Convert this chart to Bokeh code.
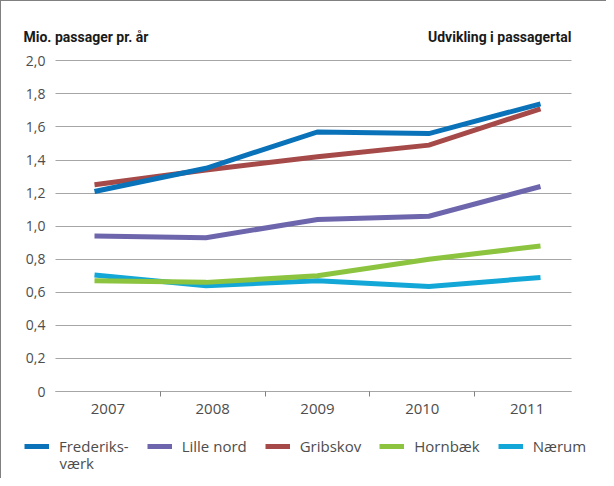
from bokeh.plotting import figure
from bokeh.models import (Range1d, LinearAxis, FixedTicker, CustomJSTickFormatter,
                          Legend, LegendItem, Label, Grid)
from bokeh.embed import file_html
from bokeh.resources import INLINE

# ---- data ----
years = [2007, 2008, 2009, 2010, 2011]
year_labels = ["2007", "2008", "2009", "2010", "2011"]
frederiksvaerk = [1.21, 1.35, 1.57, 1.56, 1.74]
lille_nord = [0.94, 0.93, 1.04, 1.06, 1.24]
gribskov = [1.25, 1.34, 1.42, 1.49, 1.71]
hornbaek = [0.67, 0.66, 0.70, 0.80, 0.88]
naerum = [0.705, 0.64, 0.67, 0.635, 0.69]
y_ticks = [0.0, 0.2, 0.4, 0.6, 0.8, 1.0, 1.2, 1.4, 1.6, 1.8, 2.0]

# ---- layout constants (pixels, figure coordinates) ----
W, H = 606, 478
PLOT_L, PLOT_R = 54, 578          # category band
PLOT_T, PLOT_B = 56, 390          # value 2.02 .. 0
Y_TOP_VAL = 2.02
GRID_R = 570                      # gridlines end
first_pt_px = 39.0                # first data point, from PLOT_L
pt_step_px = 111.5                # between data points
n_cat = len(year_labels)
cat_px = (PLOT_R - PLOT_L) / n_cat
val_px = (PLOT_B - PLOT_T) / Y_TOP_VAL

x_start = -PLOT_L / cat_px
x_end = (W - PLOT_L) / cat_px
y_start = -(H - PLOT_B) / val_px
y_end = Y_TOP_VAL + PLOT_T / val_px

yr_start = years[0] - (first_pt_px + PLOT_L) / pt_step_px
yr_end = yr_start + W / pt_step_px

FONT = "Open Sans"
TITLE_FONT = "Roboto"
TXT = "#4d4d4d"

p = figure(width=W, height=H, output_backend="svg", toolbar_location=None,
           x_range=Range1d(x_start, x_end), y_range=Range1d(y_start, y_end),
           min_border=0, x_axis_type=None, y_axis_type=None)
p.extra_x_ranges = {"yr": Range1d(yr_start, yr_end)}
p.outline_line_color = None
p.background_fill_color = "white"
p.border_fill_color = "white"
p.styles = {"border-top": "1px solid #808080", "border-left": "1px solid #808080"}

# y grid
yg = Grid(dimension=1, ticker=FixedTicker(ticks=y_ticks))
yg.grid_line_color = "#a6a6a6"
yg.grid_line_width = 1.2
if "cross_bounds" in Grid.properties():
    yg.cross_bounds = (0, (GRID_R - PLOT_L) / cat_px)
p.add_layout(yg)

# y axis
yax = LinearAxis(ticker=FixedTicker(ticks=y_ticks, minor_ticks=[]),
                 formatter=CustomJSTickFormatter(code="""
                    return Math.abs(tick) < 1e-9 ? '0' : tick.toFixed(1).replace('.', ',');
                 """), fixed_location=0, bounds=(0, 2.0))
yax.axis_line_color = None
yax.major_tick_line_color = None
yax.major_tick_out = 0
yax.major_tick_in = 0
yax.minor_tick_line_color = None
yax.major_label_standoff = 10
yax.major_label_text_font = FONT
yax.major_label_text_font_size = "14px"
yax.major_label_text_color = TXT
p.add_layout(yax, "left")

# x axis (categories)
xax = LinearAxis(ticker=FixedTicker(ticks=[i + 0.5 for i in range(n_cat)],
                                    minor_ticks=[i for i in range(1, n_cat)]),
                 formatter=CustomJSTickFormatter(args=dict(labels=year_labels), code="""
                    const i = Math.floor(tick);
                    return (i >= 0 && i < labels.length) ? labels[i] : '';
                 """), fixed_location=0, bounds=(0, (GRID_R - PLOT_L) / cat_px))
xax.axis_line_color = "#a6a6a6"
xax.axis_line_width = 1.2
xax.major_tick_line_color = None
xax.major_tick_out = 5
xax.major_tick_in = 0
xax.minor_tick_line_color = "#808080"
xax.minor_tick_out = 5
xax.minor_tick_in = 0
xax.major_label_standoff = 7
xax.major_label_text_font = FONT
xax.major_label_text_font_size = "15px"
xax.major_label_text_color = TXT
p.add_layout(xax, "below")

# lines
series = {
    "Frederiksværk": (frederiksvaerk, "#0a72b8"),
    "Lille nord": (lille_nord, "#6d66ad"),
    "Gribskov": (gribskov, "#a54a48"),
    "Hornbæk": (hornbaek, "#8cc43f"),
    "Nærum": (naerum, "#12a7d6"),
}
draw_order = ["Lille nord", "Gribskov", "Frederiksværk", "Nærum", "Hornbæk"]
renderers = {}
for name in draw_order:
    vals, col = series[name]
    renderers[name] = p.line(years, vals, x_range_name="yr", line_color=col,
                             line_width=5, line_cap="butt", line_join="miter")

legend_names = ["Frederiksværk", "Lille nord", "Gribskov", "Hornbæk", "Nærum"]
legend_labels = ["Frederiks-", "Lille nord", "Gribskov", "Hornbæk", "Nærum"]
items = [LegendItem(label=lab, renderers=[renderers[n]])
         for n, lab in zip(legend_names, legend_labels)]
LEG_H = 20
LEG_X = 23
LEG_TOP = 435
legend = Legend(items=items, orientation="horizontal",
                location=(LEG_X, H - LEG_TOP - LEG_H),
                glyph_width=25, glyph_height=LEG_H, label_height=LEG_H,
                label_standoff=10, spacing=18, padding=0, margin=0,
                border_line_color=None, background_fill_alpha=0,
                label_text_font=FONT, label_text_font_size="15px",
                label_text_color=TXT)
p.add_layout(legend, "center")

# continuation of wrapped legend label
p.add_layout(Label(x=LEG_X + 35, y=H - 461, x_units="screen", y_units="screen",
                   text="værk", text_font=FONT, text_font_size="15px",
                   text_color=TXT, text_baseline="middle", text_align="left"))

# headings
p.add_layout(Label(x=22, y=H - 35, x_units="screen", y_units="screen",
                   text="Mio. passager pr. år",
                   text_font=TITLE_FONT, text_font_style="bold",
                   text_font_size="14px", text_color="#1a1a1a",
                   text_baseline="middle", text_align="left"))
p.add_layout(Label(x=GRID_R, y=H - 35, x_units="screen", y_units="screen",
                   text="Udvikling i passagertal",
                   text_font=TITLE_FONT, text_font_style="bold",
                   text_font_size="14px", text_color="#1a1a1a",
                   text_baseline="middle", text_align="right"))

open("out.html", "w").write(file_html(p, INLINE))
